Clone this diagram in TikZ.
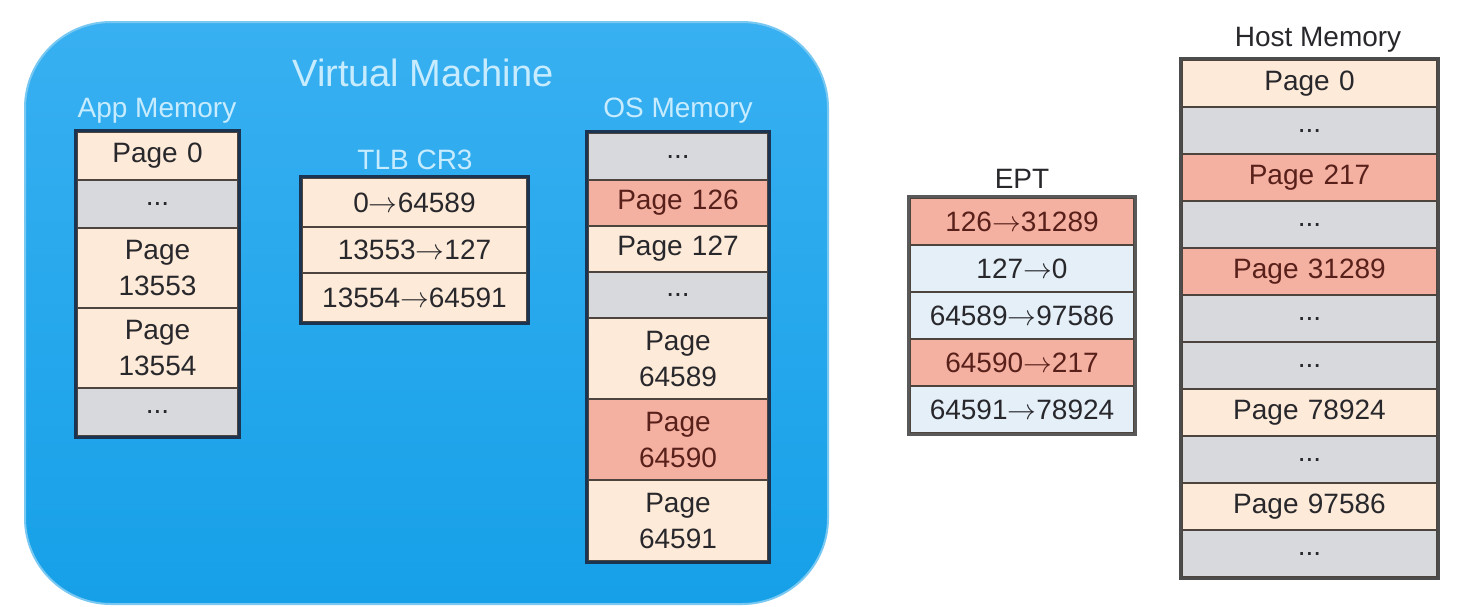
\documentclass[tikz,border=0pt]{standalone}
\usepackage{fontspec}
\setmainfont{Liberation Sans}
\usepackage{xcolor}
\usepackage{tikz}
\usetikzlibrary{positioning}

\definecolor{vmtop}{RGB}{56,176,241}
\definecolor{vmbottom}{RGB}{22,160,232}
\definecolor{vmedge}{RGB}{120,200,242}
\definecolor{peach}{RGB}{253,234,216}
\definecolor{pagegray}{RGB}{216,217,220}
\definecolor{salmon}{RGB}{244,176,160}
\definecolor{eptblue}{RGB}{228,239,248}
\definecolor{sepline}{RGB}{78,68,62}
\definecolor{navyline}{RGB}{26,52,82}
\definecolor{vmlabel}{RGB}{200,236,255}
\definecolor{celltext}{RGB}{40,40,44}
\definecolor{redtext}{RGB}{88,32,26}

\newcommand{\maps}{$\rightarrow$}

\begin{document}
\begin{tikzpicture}[x=0.5pt,y=-0.5pt,
    cell/.style={draw=sepline, line width=1.4pt, inner sep=0pt, align=center,
                 text=celltext, font=\fontsize{14}{18}\selectfont},
    appcell/.style={cell, minimum width=80.5pt, text width=78pt},
    tlbcell/.style={cell, minimum width=112.5pt, text width=110pt},
    oscell/.style={cell, minimum width=90pt, text width=88pt},
    eptcell/.style={cell, minimum width=112pt, text width=110pt, minimum height=23.5pt},
    hostcell/.style={cell, minimum width=127.5pt, text width=125pt, minimum height=23.5pt},
    pg/.style={fill=peach},
    dots/.style={fill=pagegray},
    hot/.style={fill=salmon, text=redtext},
    cool/.style={fill=eptblue},
    vmtitle/.style={text=vmlabel, font=\fontsize{14}{16}\selectfont},
    outside/.style={text=celltext, font=\fontsize{14}{16}\selectfont},
    frame/.style={draw=navyline, line width=1.3pt}]
\useasboundingbox (0,0) rectangle (1460,606);

% virtual machine
\draw[draw=vmedge, line width=1pt, top color=vmtop, bottom color=vmbottom,
      rounded corners=43pt] (25,22) rectangle (828,604);
\draw (423,73) node[text=vmlabel, font=\fontsize{19}{22}\selectfont] (vm) {Virtual Machine};

% app memory
\draw (157,111) node[vmtitle] (applabel) {App Memory};
\draw (157.5,156) node[appcell, pg, minimum height=24pt]   (app0)    {Page 0};
\draw (157.5,204) node[appcell, dots, minimum height=24pt] (appdotsA) {...};
\draw (157.5,268) node[appcell, pg, minimum height=40pt]   (app13553) {Page\\13553};
\draw (157.5,348) node[appcell, pg, minimum height=40pt]   (app13554) {Page\\13554};
\draw (157.5,412) node[appcell, dots, minimum height=24pt] (appdotsB) {...};
\draw[frame] (app0.north west) rectangle (appdotsB.south east);

% tlb
\draw (415,160) node[vmtitle] (tlblabel) {TLB CR3};
\draw (414.5,202.5) node[tlbcell, pg, minimum height=24.5pt] (tlbA) {0\maps64589};
\draw (414.5,250)   node[tlbcell, pg, minimum height=23pt]   (tlbB) {13553\maps127};
\draw (414.5,297.5) node[tlbcell, pg, minimum height=24.5pt] (tlbC) {13554\maps64591};
\draw[frame] (tlbA.north west) rectangle (tlbC.south east);

% os memory
\draw (678,111) node[vmtitle] (oslabel) {OS Memory};
\draw (678,156.5) node[oscell, dots, minimum height=23.5pt] (osdotsA) {...};
\draw (678,203)   node[oscell, hot, minimum height=23pt]    (os126)   {Page 126};
\draw (678,249)   node[oscell, pg, minimum height=23pt]     (os127)   {Page 127};
\draw (678,295)   node[oscell, dots, minimum height=23pt]   (osdotsB) {...};
\draw (678,358.5) node[oscell, pg, minimum height=40.5pt]   (os64589) {Page\\64589};
\draw (678,439.5) node[oscell, hot, minimum height=40.5pt]  (os64590) {Page\\64590};
\draw (678,520.5) node[oscell, pg, minimum height=40.5pt]   (os64591) {Page\\64591};
\draw[frame] (osdotsA.north west) rectangle (os64591.south east);

% ept
\draw (1022,179) node[outside] (eptlabel) {EPT};
\draw (1022,221.5) node[eptcell, hot]  (eptA) {126\maps31289};
\draw (1022,268.5) node[eptcell, cool] (eptB) {127\maps0};
\draw (1022,315.5) node[eptcell, cool] (eptC) {64589\maps97586};
\draw (1022,362.5) node[eptcell, hot]  (eptD) {64590\maps217};
\draw (1022,409.5) node[eptcell, cool] (eptE) {64591\maps78924};
\draw[draw=black!65, line width=1.3pt] (eptA.north west) rectangle (eptE.south east);

% host memory
\draw (1318,40) node[outside] (hostlabel) {Host Memory};
\draw (1309.5,83.5)  node[hostcell, pg]   (host0)     {Page 0};
\draw (1309.5,130.5) node[hostcell, dots] (hostdotsA) {...};
\draw (1309.5,177.5) node[hostcell, hot]  (host217)   {Page 217};
\draw (1309.5,224.5) node[hostcell, dots] (hostdotsB) {...};
\draw (1309.5,271.5) node[hostcell, hot]  (host31289) {Page 31289};
\draw (1309.5,318.5) node[hostcell, dots] (hostdotsC) {...};
\draw (1309.5,365.5) node[hostcell, dots] (hostdotsD) {...};
\draw (1309.5,412.5) node[hostcell, pg]   (host78924) {Page 78924};
\draw (1309.5,459.5) node[hostcell, dots] (hostdotsE) {...};
\draw (1309.5,506.5) node[hostcell, pg]   (host97586) {Page 97586};
\draw (1309.5,553.5) node[hostcell, dots] (hostdotsF) {...};
\draw[draw=black!70, line width=1.3pt] (host0.north west) rectangle (hostdotsF.south east);

\end{tikzpicture}
\end{document}
